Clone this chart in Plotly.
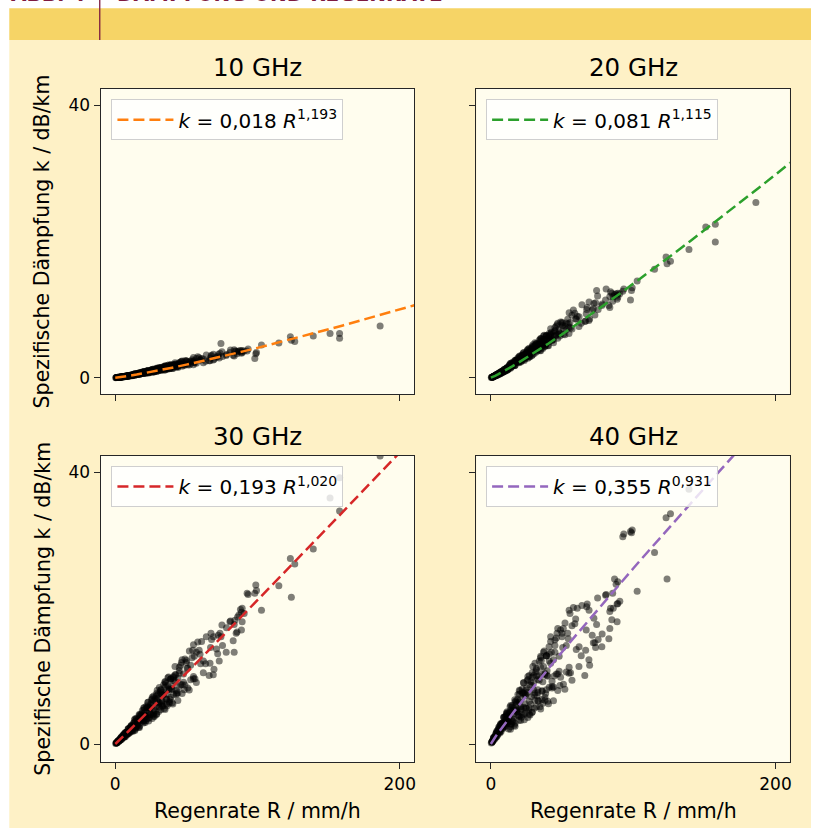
import plotly.graph_objects as go

# ---------------- data ----------------
freq_titles = ["10 GHz", "20 GHz", "30 GHz", "40 GHz"]
fit_a = [0.018, 0.081, 0.193, 0.355]
fit_b = [1.193, 1.115, 1.020, 0.931]
fit_a_text = ["0,018", "0,081", "0,193", "0,355"]
fit_b_text = ["1,193", "1,115", "1,020", "0,931"]
fit_colors = ["#ff7f0e", "#2ca02c", "#d62728", "#9467bd"]

# rain rate samples for drawing the fitted power law curves
r_fit = [0, 0.25, 0.5, 1, 2, 3, 5, 7.5, 10, 15, 20, 30, 40, 50, 60, 70, 80, 90,
         100, 110, 120, 130, 140, 150, 160, 170, 180, 190, 200, 212]

# rain rate R (mm/h) of each measured event (shared by all frequencies)
r_rain = [
    0.3, 0.6, 0.9, 1.2, 1.5, 1.9, 2.3, 2.7, 3.1, 3.5, 4.0, 4.5, 5.0, 5.5, 6.0, 6.6, 7.2, 7.8, 8.4, 9.0,
    9.6, 10.2, 10.8, 11.4, 12.0,
    13, 14, 14, 15, 16, 17, 17, 18, 19, 20, 20, 21, 22, 23, 23, 24, 25, 26, 26, 27, 28, 29, 29, 30,
    31, 32, 32, 33, 34, 35, 35, 36, 37, 38, 38, 39, 40, 41, 41, 42, 43, 44, 44, 45, 46, 47, 47, 48,
    49, 50, 52, 54, 56, 58, 60,
    50.9, 52.1, 54.4, 54.9, 55.6, 59.6, 60.7, 61.9, 63.5, 66.6, 67.0, 67.3, 67.7, 68.9, 69.4, 71.2,
    72.4, 73.1, 73.6, 74.3, 75.4, 78.2, 80.6, 82.9, 83.6, 83.6, 84.1, 85.6, 86.0, 86.9, 88.7, 88.7,
    89.2, 89.2, 90.6, 92.7, 93.4, 98.1, 98.8, 99.3, 102.8, 115.0, 123.1, 123.8, 126.2, 139.2, 151.0,
    157.7, 157.7, 186.2, 40.9, 42.0, 45.0,
    1.0, 1.7, 2.5, 3.3, 4.2, 4.8, 5.8, 6.3, 6.9, 7.5, 8.1, 8.7, 9.3, 9.9, 10.5, 11.1, 11.7, 12.5,
    13.5, 14.5, 15.5, 16.5, 17.5, 18.5, 19.5, 20.5, 21.5, 22.5, 23.5, 24.5, 25.5, 26.5, 27.5, 28.5,
    29.5, 30.5, 31.5, 32.5, 33.5, 34.5, 35.5, 36.5, 37.5, 38.5, 39.5, 40.5, 42.5, 44.5, 46.5, 48.5,
    50.5, 53, 55, 57, 59, 62, 64, 66, 69, 72, 75, 78, 81, 85, 88,
    0.8, 1.3, 2.1, 2.9, 3.8, 4.6, 5.3, 6.1, 7.0, 7.7, 8.5, 9.2, 10.0, 10.9, 11.8, 12.8, 13.8, 14.8,
    15.8, 16.8, 17.8, 18.8, 19.8, 21.0, 22.0, 23.0, 24.0, 25.0, 27.0, 29.0, 31.0, 33.0, 36.0, 39.0,
    43.0,
    3, 4, 5, 6, 7, 8, 9, 10, 11, 12, 13, 14, 15, 16, 17, 18, 19, 20, 21, 22, 23, 24, 25, 26, 27, 28,
    29, 30, 31, 32, 33, 34, 35, 36, 37, 38, 39, 40, 42, 44, 46, 48, 50,
    12, 15, 18, 21, 24, 27, 30, 33, 36, 39,
    2, 3.5, 5, 6.5, 8, 9.5, 11, 12.5, 14, 15.5, 17, 18.5, 20, 21.5, 23, 24.5, 26, 27.5, 29, 30.5, 32,
    33.5, 35, 36.5, 38, 39.5, 41, 43, 45, 47, 49, 51, 53, 55, 57,
]

# specific attenuation k (dB/km) per frequency
k_10ghz = [
    0.004, 0.013, 0.014, 0.025, 0.028, 0.049, 0.044, 0.065, 0.068, 0.097, 0.080, 0.124, 0.129, 0.17,
    0.142, 0.20, 0.16, 0.24, 0.22, 0.31, 0.24, 0.34, 0.31, 0.40, 0.30,
    0.50, 0.40, 0.59, 0.50, 0.62, 0.48, 0.70, 0.65, 0.83, 0.64, 0.79, 0.63, 0.97, 0.81, 1.06, 0.78,
    1.07, 0.79, 1.05, 1.26, 0.98, 1.30, 0.93, 1.20, 1.51, 1.06, 1.40, 1.29, 1.63, 1.13, 1.59, 1.35,
    1.84, 1.35, 1.62, 1.85, 1.36, 1.85, 1.55, 2.18, 1.60, 1.97, 1.48, 2.24, 1.86, 2.45, 1.69, 2.14,
    1.92, 2.50, 1.86, 2.63, 2.19, 3.09, 2.62,
    2.1, 2.3, 2.4, 1.9, 2.5, 2.6, 2.8, 2.2, 2.4, 2.5, 2.9, 3.2, 3.3, 2.6, 2.7, 3.0, 3.4, 2.9, 3.6,
    5.0, 3.1, 3.4, 3.7, 3.3, 4.1, 3.2, 3.9, 3.5, 3.8, 3.9, 3.8, 3.6, 4.0, 3.7, 3.9, 3.9, 4.2, 2.8,
    3.5, 3.7, 4.8, 5.1, 6.0, 5.5, 5.3, 6.1, 6.5, 6.5, 5.8, 7.6, 1.8, 1.9, 2.0,
    0.017, 0.040, 0.047, 0.081, 0.125, 0.116, 0.169, 0.138, 0.218, 0.206, 0.246, 0.217, 0.317, 0.270,
    0.318, 0.283, 0.395, 0.403, 0.561, 0.437, 0.579, 0.472, 0.725, 0.673, 0.639, 0.909, 0.753, 0.941,
    0.700, 0.980, 1.16, 0.876, 1.17, 1.08, 1.43, 1.01, 1.43, 1.20, 1.46, 1.14, 1.68, 1.47, 1.87, 1.40,
    1.69, 1.34, 2.01, 1.78, 2.36, 1.79, 2.33, 2.10, 2.96, 2.13, 2.91, 2.73, 3.34, 2.47, 3.44, 3.11,
    3.8, 3.26, 4.08, 3.88, 4.0,
    0.016, 0.023, 0.054, 0.065, 0.103, 0.097, 0.141, 0.189, 0.175, 0.233, 0.206, 0.319, 0.278, 0.358,
    0.311, 0.452, 0.371, 0.594, 0.509, 0.718, 0.629, 0.775, 0.603, 0.833, 0.719, 1.06, 0.878, 1.05,
    0.849, 1.35, 1.11, 1.40, 1.26, 1.85, 1.68,
    0.068, 0.110, 0.112, 0.170, 0.226, 0.204, 0.265, 0.244, 0.375, 0.346, 0.490, 0.419, 0.614, 0.566,
    0.503, 0.708, 0.634, 0.900, 0.765, 0.935, 0.739, 0.958, 0.858, 1.19, 0.987, 1.22, 0.925, 1.27,
    1.19, 1.48, 1.17, 1.42, 1.72, 1.35, 1.68, 1.31, 1.85, 1.65, 1.87, 1.64, 2.29, 1.96, 2.45,
    0.373, 0.478, 0.722, 0.748, 0.978, 0.918, 1.35, 1.26, 1.55, 1.46,
    0.051, 0.069, 0.145, 0.155, 0.241, 0.260, 0.384, 0.343, 0.539, 0.479, 0.628, 0.651, 0.860, 0.674,
    0.957, 0.848, 1.22, 0.856, 1.21, 1.15, 1.47, 1.18, 1.70, 1.23, 1.60, 1.64, 1.94, 1.62, 2.09, 1.89,
    2.50, 1.90, 2.43, 2.23, 2.83,
]
k_20ghz = [
    0.022, 0.057, 0.063, 0.113, 0.122, 0.204, 0.186, 0.27, 0.285, 0.39, 0.33, 0.49, 0.51, 0.67, 0.56,
    0.78, 0.64, 0.90, 0.85, 1.15, 0.93, 1.25, 1.17, 1.48, 1.15,
    1.81, 1.50, 2.11, 1.84, 2.20, 1.78, 2.49, 2.33, 2.91, 2.33, 2.78, 2.30, 3.37, 2.89, 3.66, 2.79,
    3.69, 2.85, 3.65, 4.31, 3.46, 4.44, 3.29, 4.14, 5.11, 3.76, 4.78, 4.42, 5.48, 3.97, 5.38, 4.68,
    6.12, 4.66, 5.48, 6.17, 4.71, 6.19, 5.29, 7.17, 5.47, 6.58, 5.12, 7.37, 6.28, 7.99, 5.78, 7.11,
    6.46, 8.14, 6.31, 8.57, 7.34, 9.93, 8.60,
    7.2, 7.6, 7.9, 6.5, 8.1, 8.6, 9.0, 7.5, 8.0, 8.3, 9.4, 10.0, 10.3, 8.4, 8.6, 9.9, 10.9, 9.2, 11.0,
    12.8, 10.0, 10.8, 11.4, 10.6, 11.9, 10.3, 12.6, 11.2, 11.9, 12.2, 12.1, 11.5, 12.4, 11.8, 12.3,
    12.7, 13.0, 11.4, 12.8, 13.2, 14.2, 15.9, 17.7, 16.7, 17.1, 18.8, 22.1, 22.5, 19.9, 25.7, 6.0,
    6.4, 6.8,
    0.078, 0.172, 0.200, 0.333, 0.493, 0.463, 0.656, 0.548, 0.833, 0.791, 0.936, 0.834, 1.18, 1.02,
    1.19, 1.07, 1.45, 1.49, 2.02, 1.63, 2.09, 1.75, 2.57, 2.42, 2.31, 3.17, 2.69, 3.28, 2.54, 3.41,
    3.96, 3.12, 4.04, 3.76, 4.84, 3.56, 4.86, 4.17, 4.94, 4.00, 5.66, 5.04, 6.21, 4.83, 5.72, 4.67,
    6.68, 6.05, 7.77, 6.12, 7.67, 7.04, 9.52, 7.16, 9.45, 8.93, 10.7, 8.24, 11.1, 10.1, 12.0, 10.6,
    13.0, 12.4, 12.3,
    0.070, 0.102, 0.224, 0.270, 0.416, 0.394, 0.555, 0.726, 0.681, 0.885, 0.797, 1.18, 1.05, 1.32,
    1.17, 1.66, 1.40, 2.14, 1.87, 2.53, 2.27, 2.73, 2.20, 2.94, 2.59, 3.66, 3.10, 3.63, 3.05, 4.59,
    3.88, 4.78, 4.39, 6.17, 5.70,
    0.280, 0.440, 0.450, 0.659, 0.859, 0.790, 1.00, 0.938, 1.38, 1.28, 1.78, 1.56, 2.20, 2.05, 1.86,
    2.51, 2.29, 3.14, 2.73, 3.26, 2.66, 3.34, 3.05, 4.06, 3.47, 4.20, 3.29, 4.38, 4.13, 5.03, 4.07,
    4.84, 5.76, 4.68, 5.62, 4.56, 6.17, 5.58, 6.24, 5.61, 7.55, 6.58, 8.00,
    1.38, 1.76, 2.56, 2.68, 3.40, 3.26, 4.62, 4.34, 5.27, 5.00,
    0.214, 0.288, 0.568, 0.609, 0.916, 0.987, 1.41, 1.30, 1.95, 1.77, 2.26, 2.35, 3.01, 2.44, 3.33,
    3.01, 4.16, 3.07, 4.17, 4.01, 4.99, 4.09, 5.71, 4.30, 5.43, 5.56, 6.47, 5.53, 6.93, 6.36, 8.17,
    6.39, 8.01, 7.42, 9.18,
]
k_30ghz = [
    0.057, 0.14, 0.135, 0.26, 0.26, 0.45, 0.37, 0.57, 0.57, 0.81, 0.62, 0.99, 1.00, 1.34, 1.04, 1.52,
    1.12, 1.71, 1.54, 2.21, 1.63, 2.33, 2.09, 2.77, 1.96,
    3.12, 2.17, 3.71, 2.87, 3.65, 2.43, 4.20, 3.68, 4.94, 3.36, 4.47, 3.15, 5.60, 4.30, 6.15, 3.90,
    5.92, 3.75, 5.68, 7.07, 4.91, 7.07, 4.37, 6.19, 8.32, 5.03, 7.41, 6.42, 8.73, 5.08, 8.34, 6.57,
    9.75, 6.23, 8.13, 9.57, 6.07, 9.30, 7.25, 11.4, 7.34, 9.71, 6.41, 11.3, 8.73, 12.4, 7.44, 10.3,
    8.67, 12.3, 7.96, 12.7, 9.59, 15.0, 11.8,
    11.2, 13.7, 13.8, 9.6, 12.9, 13.2, 15.1, 10.5, 11.8, 11.9, 14.2, 16.3, 15.4, 10.2, 11.0, 14.0,
    16.0, 12.2, 16.3, 15.8, 14.5, 17.1, 18.0, 15.2, 17.6, 13.5, 18.2, 16.5, 18.7, 19.0, 19.4, 16.8,
    20.0, 18.0, 19.2, 22.2, 22.0, 22.2, 23.4, 22.6, 19.7, 23.3, 27.3, 21.6, 26.5, 28.7, 36.2, 39.2,
    34.3, 42.4, 9.8, 10.2, 10.8,
    0.172, 0.383, 0.394, 0.681, 1.02, 0.892, 1.29, 0.983, 1.62, 1.47, 1.77, 1.48, 2.24, 1.82, 2.17,
    1.85, 2.68, 2.39, 3.56, 2.42, 3.43, 2.45, 4.33, 3.78, 3.40, 5.33, 4.01, 5.31, 3.38, 5.34, 6.51,
    4.31, 6.35, 5.53, 7.92, 4.79, 7.68, 5.91, 7.55, 5.21, 8.91, 7.34, 9.88, 6.56, 8.46, 5.89, 10.2,
    8.43, 12.0, 7.98, 11.1, 9.44, 14.6, 9.04, 13.8, 12.2, 15.8, 10.1, 15.8, 13.3, 17.5, 13.5, 18.1,
    16.3, 19.8,
    0.164, 0.219, 0.494, 0.547, 0.852, 0.734, 1.08, 1.43, 1.25, 1.69, 1.41, 2.26, 1.89, 2.45, 2.03,
    2.76, 1.97, 3.64, 2.83, 4.36, 3.53, 4.54, 3.09, 4.70, 3.71, 6.15, 4.64, 5.77, 4.07, 7.43, 5.44,
    7.24, 5.90, 9.57, 7.88,
    0.566, 0.899, 0.843, 1.28, 1.68, 1.43, 1.85, 1.62, 2.57, 2.28, 3.04, 2.34, 3.78, 3.26, 2.64,
    4.12, 3.42, 5.33, 4.18, 5.33, 3.74, 5.24, 4.38, 6.65, 5.07, 6.65, 4.37, 6.75, 6.02, 8.01, 5.60,
    7.25, 9.21, 6.57, 8.60, 6.00, 9.57, 8.07, 9.26, 7.51, 11.6, 9.10, 12.0,
    2.49, 2.68, 4.23, 4.05, 5.38, 4.57, 7.30, 6.22, 7.92, 6.89,
    0.473, 0.548, 1.14, 1.11, 1.73, 1.76, 2.65, 1.89, 3.32, 2.63, 3.63, 3.61, 5.02, 3.42, 5.37, 4.36,
    6.89, 4.05, 6.44, 5.83, 7.91, 5.58, 9.10, 5.64, 8.01, 8.09, 9.94, 7.47, 10.4, 8.76, 12.5, 8.25,
    11.6, 9.95, 13.5,
]
k_40ghz = [
    0.13, 0.31, 0.26, 0.53, 0.50, 0.92, 0.68, 1.08, 1.05, 1.55, 1.06, 1.83, 1.78, 2.47, 1.77, 2.74,
    1.83, 2.98, 2.57, 3.89, 2.66, 4.00, 3.46, 4.75, 3.06,
    4.65, 2.54, 5.67, 3.83, 5.25, 2.63, 6.17, 4.97, 7.30, 4.03, 6.22, 3.46, 8.11, 5.42, 9.01, 4.49,
    8.25, 3.91, 7.62, 10.1, 5.84, 9.81, 4.67, 8.00, 11.9, 5.50, 10.0, 7.97, 12.2, 5.15, 11.3, 7.81,
    13.5, 6.89, 10.4, 13.0, 6.29, 12.2, 8.36, 15.8, 8.24, 12.4, 6.36, 15.3, 10.3, 17.0, 7.86, 12.9,
    9.84, 16.3, 8.07, 16.3, 10.5, 20.1, 13.9,
    17.0, 17.8, 15.5, 10.4, 19.2, 18.4, 20.0, 11.4, 13.0, 13.8, 16.8, 20.2, 20.6, 12.4, 11.6, 16.0,
    18.5, 14.9, 14.2, 17.6, 15.4, 16.2, 21.9, 15.5, 19.5, 17.0, 20.0, 22.2, 20.0, 24.3, 20.6, 18.0,
    23.9, 20.7, 21.0, 30.5, 30.9, 31.3, 31.1, 31.5, 22.5, 28.2, 33.3, 24.3, 33.9, 37.5, 45.0, 48.0,
    43.0, 55.0, 14.3, 15.1, 14.5,
    0.344, 0.774, 0.708, 1.27, 1.92, 1.58, 2.31, 1.62, 2.92, 2.53, 3.08, 2.42, 3.93, 3.00, 3.65, 2.94,
    4.56, 3.23, 5.48, 2.99, 4.91, 2.76, 6.34, 5.09, 4.17, 7.85, 5.09, 7.47, 3.56, 7.21, 9.31, 4.92,
    8.68, 6.95, 11.4, 5.25, 10.6, 7.09, 10.0, 5.49, 12.3, 9.17, 13.7, 7.43, 10.8, 5.91, 13.5, 10.0,
    16.3, 8.63, 14.2, 10.6, 19.7, 9.39, 17.7, 14.3, 20.4, 10.1, 19.7, 14.9, 21.5, 14.3, 22.0, 18.3,
    23.5,
    0.348, 0.426, 0.986, 1.01, 1.60, 1.25, 1.93, 2.60, 2.10, 2.94, 2.29, 3.98, 3.12, 4.18, 3.22, 3.94,
    2.17, 5.42, 3.63, 6.52, 4.70, 6.55, 3.51, 6.51, 4.40, 9.01, 5.92, 7.95, 4.37, 10.5, 6.42, 9.51,
    6.55, 13.0, 9.23,
    1.05, 1.68, 1.45, 2.27, 3.02, 2.39, 3.15, 2.58, 4.40, 3.71, 4.49, 2.89, 5.68, 4.47, 3.05, 5.85,
    4.30, 7.92, 5.49, 7.58, 4.32, 7.07, 5.26, 9.48, 6.30, 9.15, 4.67, 9.06, 7.52, 11.1, 6.42, 9.38,
    12.9, 7.81, 11.4, 6.45, 13.0, 9.99, 11.9, 8.38, 15.6, 10.7, 15.8,
    4.14, 3.46, 6.07, 5.24, 7.36, 5.33, 10.1, 7.58, 10.3, 7.99,
    0.951, 0.952, 2.09, 1.88, 3.01, 2.93, 4.55, 2.21, 4.89, 3.28, 5.02, 4.75, 7.31, 3.92, 7.49, 5.30,
    9.94, 4.28, 8.61, 7.22, 10.9, 6.32, 12.7, 5.99, 10.2, 10.1, 13.3, 8.48, 13.5, 10.3, 16.8, 8.79,
    14.5, 11.3, 17.4,
]
k_series = [k_10ghz, k_20ghz, k_30ghz, k_40ghz]

x_ticks = [0, 200]
y_ticks = [0, 40]

# ---------------- layout helpers ----------------
W, H = 813, 830
FONT = "DejaVu Sans"


def px_x(p):
    return p / W


def px_y(p):
    return 1 - p / H


col_px = [(101, 415), (477.5, 791.7)]
row_px = [(89, 394), (455.5, 762)]
col_dom = [[px_x(a), px_x(b)] for a, b in col_px]
row_dom = [[px_y(b), px_y(a)] for a, b in row_px]
row_yrange = [[-2.39, 42.35], [-2.65, 42.47]]
x_range = [-10.2, 210.0]

fig = go.Figure()

legend_names = ["legend", "legend2", "legend3", "legend4"]
for i in range(4):
    sfx = "" if i == 0 else str(i + 1)
    fig.add_trace(go.Scatter(
        x=r_rain, y=k_series[i], mode="markers",
        marker=dict(size=7, color="rgba(0,0,0,0.5)", line=dict(width=0)),
        xaxis="x" + sfx, yaxis="y" + sfx, showlegend=False, hoverinfo="skip",
    ))
    k_fit = [fit_a[i] * r ** fit_b[i] for r in r_fit]
    fig.add_trace(go.Scatter(
        x=r_fit, y=k_fit, mode="lines",
        line=dict(color=fit_colors[i], width=2.5, dash="11px,5px"),
        name=f"<i>k</i> = {fit_a_text[i]} <i>R</i><sup>{fit_b_text[i]}</sup>",
        xaxis="x" + sfx, yaxis="y" + sfx, legend=legend_names[i], showlegend=True,
    ))

axis_common = dict(
    showline=True, mirror=True, linecolor="#262626", linewidth=1.4,
    ticks="outside", ticklen=6, tickwidth=1.4, tickcolor="#262626",
    showgrid=False, zeroline=False,
    tickfont=dict(family=FONT, size=17, color="black"),
)

layout = dict(
    width=W, height=H, margin=dict(l=0, r=0, t=0, b=0),
    paper_bgcolor="white", plot_bgcolor="rgba(0,0,0,0)",
    font=dict(family=FONT, color="black"),
)

for i in range(4):
    r, c = divmod(i, 2)
    sfx = "" if i == 0 else str(i + 1)
    layout["xaxis" + sfx] = dict(
        axis_common, domain=col_dom[c], range=x_range, tickvals=x_ticks,
        showticklabels=(r == 1), anchor="y" + sfx,
    )
    layout["yaxis" + sfx] = dict(
        axis_common, domain=row_dom[r], range=row_yrange[r], tickvals=y_ticks,
        showticklabels=(c == 0), anchor="x" + sfx,
    )
    leg_x = px_x(111.7) if c == 0 else px_x(487.3)
    leg_y = px_y(99.3) if r == 0 else px_y(466)
    layout[legend_names[i]] = dict(
        x=leg_x, y=leg_y, xanchor="left", yanchor="top",
        bgcolor="rgba(255,255,255,0.8)", bordercolor="#cfcfcf", borderwidth=1,
        font=dict(family=FONT, size=20, color="black"), itemwidth=56,
    )

fig.update_layout(**layout)

# background panels and header
shapes = [
    dict(type="rect", xref="paper", yref="paper", x0=px_x(9.3), x1=1.0, y0=px_y(828), y1=px_y(40),
         fillcolor="#FEF1C6", line=dict(width=0), layer="below"),
    dict(type="rect", xref="paper", yref="paper", x0=px_x(9.3), x1=1.0, y0=px_y(40), y1=px_y(8.3),
         fillcolor="#F6D466", line=dict(width=0), layer="below"),
    dict(type="line", xref="paper", yref="paper", x0=px_x(100), x1=px_x(100), y0=px_y(40), y1=1.0,
         line=dict(color="#7D1A3F", width=1.3), layer="above"),
]
for r in range(2):
    for c in range(2):
        shapes.append(dict(type="rect", xref="paper", yref="paper",
                           x0=col_dom[c][0], x1=col_dom[c][1], y0=row_dom[r][0], y1=row_dom[r][1],
                           fillcolor="#FFFDEE", line=dict(width=0), layer="below"))
fig.update_layout(shapes=shapes)

annotations = [
    dict(text="<b>ABB. 4</b>", x=px_x(9.5), y=px_y(8), xanchor="left", yanchor="bottom",
         font=dict(family=FONT, size=20, color="#7D1A3F")),
    dict(text="<b>DÄMPFUNG UND REGENRATE</b>", x=px_x(115), y=px_y(8), xanchor="left", yanchor="bottom",
         font=dict(family=FONT, size=20, color="#7D1A3F")),
]
for i in range(4):
    r, c = divmod(i, 2)
    cx = (col_dom[c][0] + col_dom[c][1]) / 2
    ty = px_y(68) if r == 0 else px_y(436)
    annotations.append(dict(text=freq_titles[i], x=cx, y=ty, xanchor="center", yanchor="middle",
                            font=dict(family=FONT, size=24.5, color="black")))
for c in range(2):
    cx = (col_dom[c][0] + col_dom[c][1]) / 2
    annotations.append(dict(text="Regenrate R / mm/h", x=cx, y=px_y(811), xanchor="center",
                            yanchor="middle", font=dict(family=FONT, size=20.5, color="black")))
for r in range(2):
    cy = (row_dom[r][0] + row_dom[r][1]) / 2
    annotations.append(dict(text="Spezifische Dämpfung k / dB/km", x=px_x(43), y=cy, xanchor="center",
                            yanchor="middle", textangle=-90,
                            font=dict(family=FONT, size=20.5, color="black")))
for a in annotations:
    a.update(xref="paper", yref="paper", showarrow=False)
fig.update_layout(annotations=annotations)

fig.write_html(
    "out.html",
    config={"displayModeBar": False},
    post_script="document.body.style.margin='0';document.body.style.overflow='hidden';",
)
